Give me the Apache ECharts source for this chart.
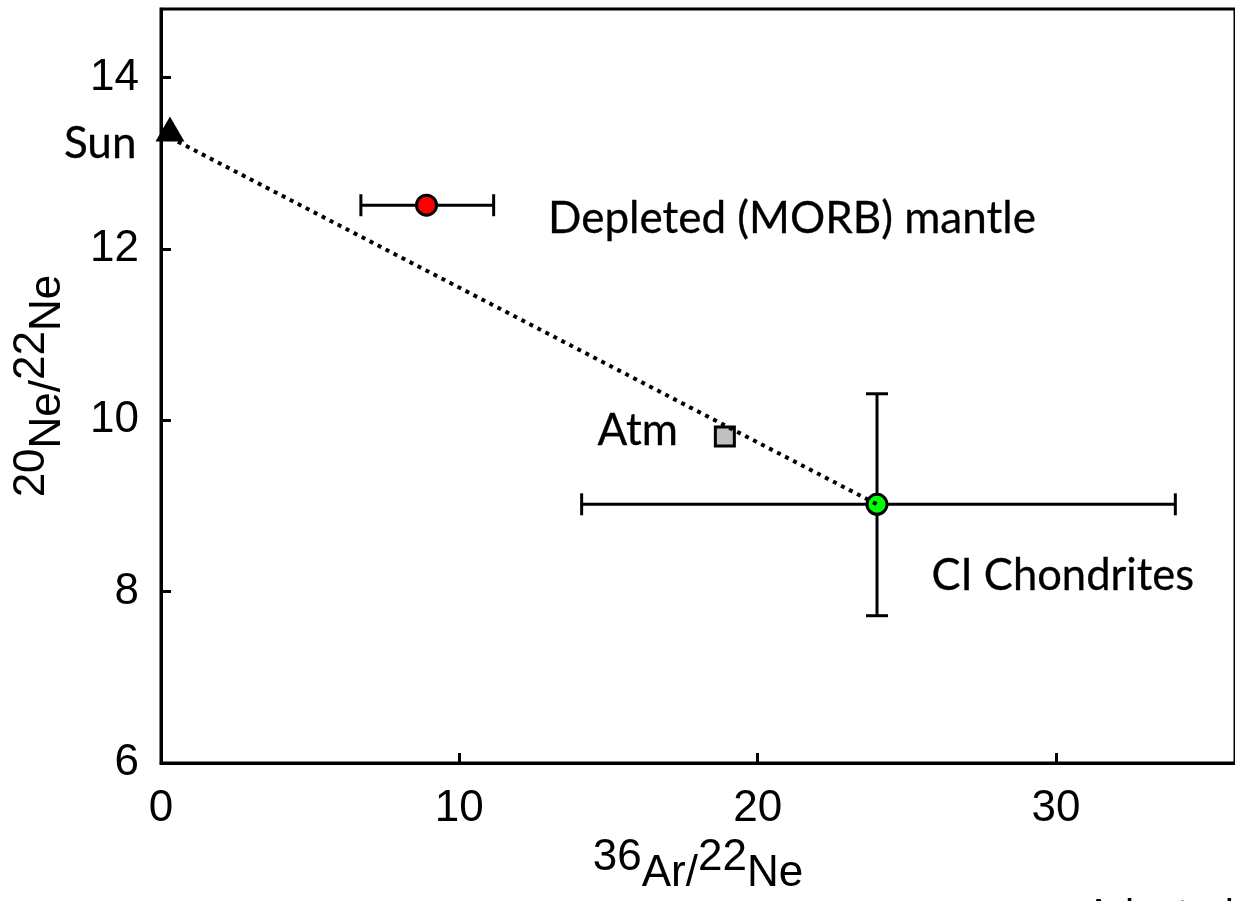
<!DOCTYPE html>
<html>
<head>
<meta charset="utf-8">
<script src="https://cdn.jsdelivr.net/npm/echarts@6/dist/echarts.min.js"></script>
<style>
html,body{margin:0;padding:0;background:#fff;}
#chart{width:1235px;height:901px;}
</style>
</head>
<body>
<div id="chart"></div>
<script>
// ---- data ----
const pointNames = ['Sun', 'Depleted (MORB) mantle', 'Atm', 'CI Chondrites'];
const sunPoint = [0.3, 13.4];
const morbPoint = [8.9, 12.51];
const atmPoint = [18.9, 9.81];
const ciPoint = [24.0, 9.02];
const morbXErr = [6.7, 11.15];
const ciXErr = [14.1, 34.0];
const ciYErr = [7.72, 10.31];
const mixingLine = [[0.3, 13.3], [24.0, 9.02]];
const xTicks = [0, 10, 20, 30];
const yTicks = [6, 8, 10, 12, 14];

const FONT_AX = 'Liberation Sans';
const FONT_TXT = 'Lato';

const chart = echarts.init(document.getElementById('chart'), null, {renderer: 'canvas'});

const errStyle = {stroke: '#000', lineWidth: 3};
const CAP = 11;

function xErrRender(params, api) {
  const y = api.value(1), lo = api.value(2), hi = api.value(3);
  const p1 = api.coord([lo, y]), p2 = api.coord([hi, y]);
  return {type: 'group', children: [
    {type: 'line', shape: {x1: p1[0], y1: p1[1], x2: p2[0], y2: p2[1]}, style: errStyle},
    {type: 'line', shape: {x1: p1[0], y1: p1[1] - CAP, x2: p1[0], y2: p1[1] + CAP}, style: errStyle},
    {type: 'line', shape: {x1: p2[0], y1: p2[1] - CAP, x2: p2[0], y2: p2[1] + CAP}, style: errStyle}
  ]};
}
function yErrRender(params, api) {
  const x = api.value(0), lo = api.value(2), hi = api.value(3);
  const p1 = api.coord([x, lo]), p2 = api.coord([x, hi]);
  return {type: 'group', children: [
    {type: 'line', shape: {x1: p1[0], y1: p1[1], x2: p2[0], y2: p2[1]}, style: errStyle},
    {type: 'line', shape: {x1: p1[0] - CAP, y1: p1[1], x2: p1[0] + CAP, y2: p1[1]}, style: errStyle},
    {type: 'line', shape: {x1: p2[0] - CAP, y1: p2[1], x2: p2[0] + CAP, y2: p2[1]}, style: errStyle}
  ]};
}

const richTitle = {
  sup: {fontFamily: FONT_AX, fontSize: 44, color: '#000', lineHeight: 44, padding: [0, 0, 16, 0]},
  base: {fontFamily: FONT_AX, fontSize: 44, color: '#000', lineHeight: 44, padding: [16, 0, 0, 0]}
};

function ptLabel(name, position, distance, offset, size) {
  return {
    show: true, formatter: name, position: position, distance: distance, offset: offset,
    fontFamily: FONT_TXT, fontSize: size, color: '#000', opacity: 1,
    textBorderColor: '#000', textBorderWidth: 0.3
  };
}

const option = {
  backgroundColor: '#fff',
  animation: false,
  grid: {left: 161, right: -4, top: 9, bottom: 136, show: true, borderColor: '#000', borderWidth: 3, backgroundColor: 'transparent', containLabel: false},
  xAxis: {
    type: 'value', min: 0, max: 36, interval: 10,
    name: '{sup|36}{base|Ar/}{sup|22}{base|Ne}',
    nameLocation: 'middle', nameGap: 75,
    nameTextStyle: {fontFamily: FONT_AX, fontSize: 44, color: '#000', rich: richTitle},
    axisLine: {show: true, onZero: false, lineStyle: {color: '#000', width: 3}},
    axisTick: {show: true, inside: true, length: 10, lineStyle: {color: '#000', width: 3}},
    axisLabel: {fontFamily: FONT_AX, fontSize: 44, color: '#000', margin: 24, showMaxLabel: false,
      formatter: v => xTicks.indexOf(v) >= 0 ? String(v) : ''},
    splitLine: {show: false}
  },
  yAxis: {
    type: 'value', min: 6, max: 14.8, interval: 2,
    name: '{sup|20}{base|Ne/}{sup|22}{base|Ne}',
    nameLocation: 'middle', nameGap: 99, nameRotate: 90,
    nameTextStyle: {fontFamily: FONT_AX, fontSize: 44, color: '#000', rich: richTitle},
    axisLine: {show: true, onZero: false, lineStyle: {color: '#000', width: 3}},
    axisTick: {show: true, inside: true, length: 10, lineStyle: {color: '#000', width: 3}},
    axisLabel: {fontFamily: FONT_AX, fontSize: 44, color: '#000', margin: 22, showMaxLabel: false,
      formatter: v => yTicks.indexOf(v) >= 0 ? String(v) : ''},
    splitLine: {show: false}
  },
  series: [
    {
      type: 'custom', name: 'xerr', renderItem: xErrRender, z: 2,
      encode: {x: 0, y: 1},
      data: [
        [morbPoint[0], morbPoint[1], morbXErr[0], morbXErr[1]],
        [ciPoint[0], ciPoint[1], ciXErr[0], ciXErr[1]]
      ]
    },
    {
      type: 'custom', name: 'yerr', renderItem: yErrRender, z: 2,
      encode: {x: 0, y: 1},
      data: [[ciPoint[0], ciPoint[1], ciYErr[0], ciYErr[1]]]
    },
    {
      type: 'scatter', name: pointNames[0], z: 3,
      symbol: 'triangle', symbolSize: [29, 25],
      itemStyle: {color: '#000', opacity: 1},
      label: ptLabel(pointNames[0], 'left', 19, [0, 15], 44),
      data: [sunPoint]
    },
    {
      type: 'scatter', name: pointNames[1], z: 3,
      symbol: 'circle', symbolSize: 20,
      itemStyle: {color: '#ff0000', borderColor: '#000', borderWidth: 3, opacity: 1},
      label: ptLabel(pointNames[1], 'right', 110, [0, 14], 44),
      data: [morbPoint]
    },
    {
      type: 'scatter', name: pointNames[2], z: 3,
      symbol: 'rect', symbolSize: 19,
      itemStyle: {color: '#c0c0c0', borderColor: '#000', borderWidth: 3, opacity: 1},
      label: ptLabel(pointNames[2], 'left', 36, [0, -6], 44),
      data: [atmPoint]
    },
    {
      type: 'scatter', name: pointNames[3], z: 3,
      symbol: 'circle', symbolSize: 20,
      itemStyle: {color: '#00ff00', borderColor: '#000', borderWidth: 3, opacity: 1},
      label: ptLabel(pointNames[3], 'right', 43, [0, 72], 43.5),
      data: [ciPoint]
    },
    {
      type: 'line', name: 'mixing', z: 4,
      symbol: 'none', silent: true,
      lineStyle: {color: '#000', width: 4, type: [4, 5]},
      data: mixingLine
    }
  ],
  graphic: [
    {type: 'text', left: 1085, top: 895, style: {text: 'Adapted from', font: '40px Lato', fill: '#000'}}
  ]
};

chart.setOption(option);
</script>
</body>
</html>
